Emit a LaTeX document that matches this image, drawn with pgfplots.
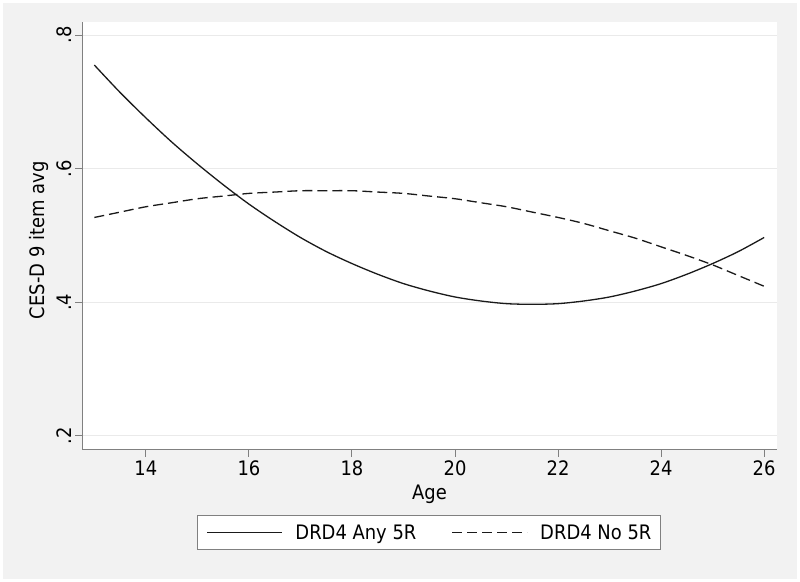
\documentclass[border=0pt]{standalone}
\usepackage{fontspec}
\setmainfont{DejaVu Sans}[FakeStretch=0.9]
\usepackage{pgfplots}
\pgfplotsset{compat=1.18}
\definecolor{bgc}{HTML}{F2F2F2}
\definecolor{axc}{HTML}{808080}
\definecolor{gridc}{HTML}{EAEAEA}
\definecolor{linec}{HTML}{1A1A1A}
\begin{document}
\begin{tikzpicture}[x=1bp,y=1bp]
\useasboundingbox (0,0) rectangle (800,582);
\fill[white] (0,0) rectangle (800,582);
\fill[bgc] (3,3) rectangle (797,579);
\begin{axis}[
  at={(82bp,132bp)}, anchor=south west, scale only axis,
  width=695bp, height=428bp,
  xmin=12.76, xmax=26.25, ymin=0.179, ymax=0.8195,
  axis x line*=bottom, axis y line*=left,
  axis line style={axc, line width=1bp, -},
  axis background/.style={fill=white},
  xtick={14,16,18,20,22,24,26},
  ytick={0.2,0.4,0.6,0.8}, yticklabels={.2,.4,.6,.8},
  /pgf/number format/assume math mode=true,
  ymajorgrids, grid style={gridc, line width=1bp},
  tick style={axc, line width=1bp},
  tick align=outside, major tick length=7bp,
  ticklabel style={font=\fontsize{20}{24}\selectfont},
  yticklabel style={rotate=90, anchor=south},
  label style={font=\fontsize{20}{24}\selectfont},
  xlabel={Age}, ylabel={CES-D 9 item avg},
  xlabel style={at={(axis description cs:0.5,-0.1028)}, anchor=center},
  ylabel style={at={(axis description cs:-0.0618,0.49)}, anchor=center},
  legend columns=2,
  legend style={at={(axis description cs:0.4993,-0.1932)}, anchor=center,
    draw=axc, fill=white, line width=0.8bp,
    font=\fontsize{20}{24}\selectfont,
    inner xsep=9bp, inner ysep=9bp,
    nodes={inner sep=0bp},
    /tikz/every odd column/.append style={column sep=12.5bp},
    /tikz/every even column/.append style={column sep=35bp}},
  legend image code/.code={\draw[#1] (0bp,0bp) -- (75bp,0bp);},
]
\addplot[linec, line width=1.3bp, smooth] coordinates {
(13,0.755) (13.5,0.714) (14,0.676) (14.5,0.640) (15,0.607) (15.5,0.576)
(16,0.547) (16.5,0.521) (17,0.497) (17.5,0.476) (18,0.458) (18.5,0.442)
(19,0.428) (19.5,0.417) (20,0.408) (20.5,0.402) (21,0.398) (21.5,0.397)
(22,0.398) (22.5,0.402) (23,0.408) (23.5,0.417) (24,0.428) (24.5,0.442)
(25,0.458) (25.5,0.476) (26,0.497)};
\addlegendentry{DRD4 Any 5R}
\addplot[linec, line width=1.3bp, smooth, dash pattern=on 10bp off 5bp] coordinates {
(13,0.527) (13.5,0.535) (14,0.543) (14.5,0.549) (15,0.555) (15.5,0.559)
(16,0.563) (16.5,0.565) (17,0.567) (17.5,0.567) (18,0.567) (18.5,0.565)
(19,0.563) (19.5,0.559) (20,0.555) (20.5,0.549) (21,0.543) (21.5,0.535)
(22,0.527) (22.5,0.518) (23,0.507) (23.5,0.496) (24,0.483) (24.5,0.470)
(25,0.456) (25.5,0.440) (26,0.424)};
\addlegendentry{DRD4 No 5R}
\end{axis}
\end{tikzpicture}
\end{document}
